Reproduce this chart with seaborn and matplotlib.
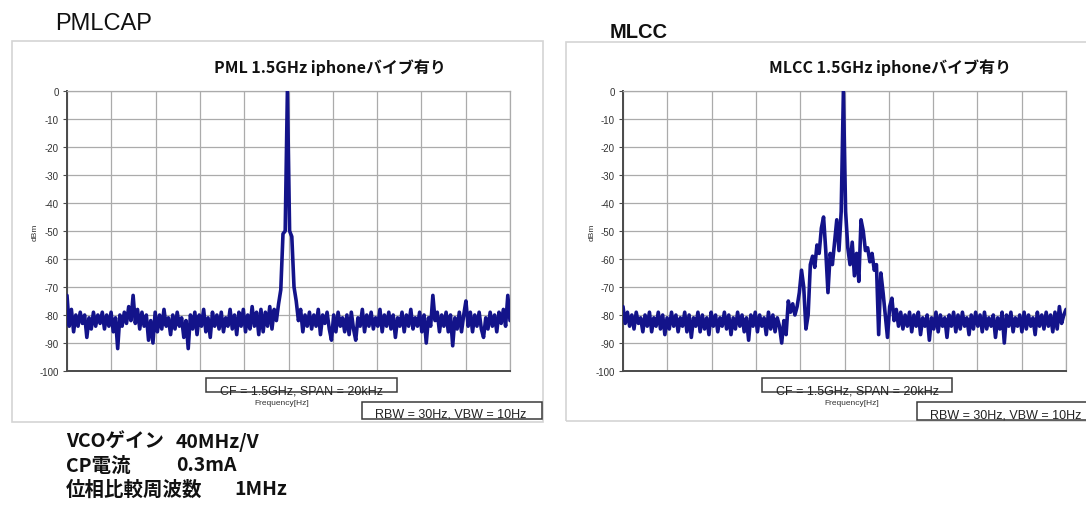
import numpy as np
import pandas as pd
import matplotlib
matplotlib.use("Agg")
import matplotlib.pyplot as plt
import seaborn as sns
from matplotlib.patches import Rectangle

sns.set_theme(style="white")
plt.rcParams['font.family'] = ['Liberation Sans', 'Noto Sans CJK JP', 'DejaVu Sans']
plt.rcParams['axes.unicode_minus'] = False

# ---------------- data ----------------
SPAN_START_KHZ = -10.0
SPAN_STOP_KHZ = 10.0

pml_dbm = [
    -73, -84, -78, -86, -80, -84, -79, -83, -80, -88,
    -81, -85, -79, -84, -80, -83, -79, -85, -80, -84,
    -79, -86, -81, -92, -80, -84, -79, -83, -77, -82,
    -73, -83, -78, -85, -79, -84, -80, -89, -82, -90,
    -79, -86, -80, -85, -78, -84, -81, -87, -80, -85,
    -79, -84, -81, -88, -82, -92, -80, -85, -79, -87,
    -80, -84, -78, -86, -81, -88, -79, -84, -80, -85,
    -79, -86, -81, -84, -78, -85, -80, -87, -79, -84,
    -78, -86, -80, -85, -77, -84, -79, -87, -78, -86,
    -79, -84, -77, -85, -78, -82, -76, -71, -51, -50,
    0,
    -50, -52, -70, -75, -82, -78, -86, -80, -84, -79,
    -85, -80, -84, -78, -87, -80, -83, -79, -85, -89,
    -80, -86, -79, -84, -81, -86, -80, -87, -79, -85,
    -89, -81, -84, -78, -86, -80, -84, -79, -85, -81,
    -84, -78, -86, -80, -84, -79, -85, -80, -88, -81,
    -84, -79, -86, -80, -84, -78, -85, -81, -84, -79,
    -86, -80, -90, -81, -84, -73, -82, -79, -86, -80,
    -84, -79, -86, -80, -91, -81, -85, -79, -86, -80,
    -75, -84, -79, -86, -80, -84, -79, -85, -88, -81,
    -85, -79, -84, -80, -86, -79, -83, -78, -84, -73,
    -82,
]

mlcc_dbm = [
    -77, -83, -79, -84, -80, -85, -79, -83, -81, -86,
    -80, -84, -79, -86, -81, -84, -79, -85, -80, -87,
    -81, -85, -79, -84, -80, -86, -81, -84, -79, -86,
    -80, -88, -81, -84, -79, -86, -80, -85, -81, -87,
    -79, -84, -80, -86, -81, -84, -79, -85, -80, -87,
    -81, -85, -79, -84, -80, -86, -81, -89, -80, -84,
    -79, -86, -80, -84, -81, -87, -79, -85, -80, -86,
    -81, -84, -90, -82, -87, -75, -79, -76, -80, -77,
    -72, -64, -70, -85, -80, -62, -59, -63, -55, -58,
    -49, -45, -57, -72, -58, -62, -54, -46, -57, -43,
    0,
    -43, -56, -62, -54, -66, -58, -68, -46, -50, -57,
    -56, -61, -58, -64, -62, -87, -65, -72, -80, -88,
    -77, -74, -82, -78, -84, -79, -85, -80, -84, -79,
    -86, -80, -84, -79, -87, -81, -84, -80, -89, -81,
    -85, -79, -86, -80, -84, -81, -88, -80, -84, -79,
    -86, -80, -85, -79, -84, -81, -87, -80, -85, -79,
    -84, -80, -86, -79, -85, -81, -84, -80, -88, -81,
    -85, -79, -90, -80, -84, -79, -86, -81, -84, -80,
    -86, -79, -85, -80, -84, -81, -87, -79, -84, -80,
    -85, -79, -84, -80, -86, -79, -85, -77, -83, -80,
    -78,
]

y_ticks = [0, -10, -20, -30, -40, -50, -60, -70, -80, -90, -100]
y_tick_labels = ["0", "-10", "-20", "-30", "-40", "-50", "-60", "-70", "-80", "-90", "-100"]
x_grid = [-10, -8, -6, -4, -2, 0, 2, 4, 6, 8, 10]

panel_names = ["PMLCAP", "MLCC"]
chart_titles = ["PML 1.5GHz iphoneバイブ有り", "MLCC 1.5GHz iphoneバイブ有り"]
cf_label = "CF = 1.5GHz, SPAN = 20kHz"
bw_label = "RBW = 30Hz, VBW = 10Hz"
x_label = "Frequency[Hz]"
y_label = "dBm"
cond_labels = ["VCOゲイン", "CP電流", "位相比較周波数"]
cond_values = ["40MHz/V", "0.3mA", "1MHz"]

# ---------------- figure ----------------
W, H = 1086, 510
fig = plt.figure(figsize=(W / 100, H / 100), dpi=100)
fig.patch.set_facecolor("white")


def fx(x):
    return x / W


def fy(y):
    return 1 - y / H


def rect(x0, y0, x1, y1, ec, lw=1.0, fc=None, z=1):
    fig.patches.append(Rectangle((fx(x0), fy(y1)), (x1 - x0) / W, (y1 - y0) / H,
                                 transform=fig.transFigure, fill=fc is not None,
                                 facecolor=fc if fc else "none", edgecolor=ec,
                                 lw=lw, zorder=z))


LINE_COLOR = "#13138a"
GRID_COLOR = "#ababab"
AXIS_COLOR = "#4a4a4a"

panels = [
    dict(series=pml_dbm, outer=(12, 42, 543, 423), axes=(67, 92, 510, 372),
         title=(330, 68), cf=(206, 379, 397, 393), freq=(282, 404),
         bw=(362, 403, 542, 420), ylab=35),
    dict(series=mlcc_dbm, outer=(566, 43, 1095, 422), axes=(623, 92, 1066, 372),
         title=(890, 68), cf=(762, 379, 952, 393), freq=(852, 404),
         bw=(917, 403, 1095, 421), ylab=592),
]

for k, p in enumerate(panels):
    vals = p["series"]
    n = len(vals)
    freq = np.linspace(SPAN_START_KHZ, SPAN_STOP_KHZ, n)
    df = pd.DataFrame({"freq_khz": freq, "level_dbm": vals})

    ox0, oy0, ox1, oy1 = p["outer"]
    rect(ox0, oy0, ox1, oy1, ec="#d4d4d4", lw=1.2, z=0)

    x0, y0, x1, y1 = p["axes"]
    ax = fig.add_axes([fx(x0), fy(y1), (x1 - x0) / W, (y1 - y0) / H])
    sns.lineplot(data=df, x="freq_khz", y="level_dbm", ax=ax, color=LINE_COLOR,
                 lw=2.6, estimator=None, sort=False, zorder=3)
    ax.set_xlim(SPAN_START_KHZ, SPAN_STOP_KHZ)
    ax.set_ylim(-100, 0)
    ax.set_xticks(x_grid)
    ax.set_xticklabels([])
    ax.set_yticks(y_ticks)
    ax.set_yticklabels(y_tick_labels, fontsize=7, color="#333333")
    ax.set_xlabel("")
    ax.set_ylabel("")
    ax.grid(True, color=GRID_COLOR, lw=0.9)
    ax.set_axisbelow(True)
    for side in ["top", "right"]:
        ax.spines[side].set_color(GRID_COLOR)
        ax.spines[side].set_linewidth(0.9)
    for side in ["left", "bottom"]:
        ax.spines[side].set_color(AXIS_COLOR)
        ax.spines[side].set_linewidth(1.4)
    ax.tick_params(axis="y", length=3, width=0.8, color=AXIS_COLOR, pad=3, left=True)
    ax.tick_params(axis="x", length=0)

    tx, ty = p["title"]
    fig.text(fx(tx), fy(ty), chart_titles[k], ha="center", va="center",
             fontsize=11.5, fontweight="bold", family=["Noto Sans CJK JP"], color="#111111")

    fig.text(fx(p["ylab"]), fy((y0 + y1) / 2), y_label, rotation=90, ha="center",
             va="center", fontsize=6, color="#333333")

    cx0, cy0, cx1, cy1 = p["cf"]
    rect(cx0, cy0, cx1, cy1, ec="#3a3a3a", lw=1.1, fc="white", z=2)
    fig.text(fx((cx0 + cx1) / 2), fy(cy1 + 1), cf_label, ha="center", va="baseline",
             fontsize=9, color="#222222", zorder=3)

    fxl, fyl = p["freq"]
    fig.text(fx(fxl), fy(fyl), x_label, ha="center", va="center", fontsize=6,
             color="#333333")

    bx0, by0, bx1, by1 = p["bw"]
    rect(bx0, by0, bx1, by1, ec="#3a3a3a", lw=1.1, fc="white", z=2)
    fig.text(fx(bx0 + 13), fy(by1 - 2), bw_label, ha="left", va="baseline",
             fontsize=9, color="#222222", zorder=3)

# panel headings
fig.text(fx(55), fy(24), panel_names[0], ha="left", va="center", fontsize=17,
         color="#111111")
fig.text(fx(610), fy(33), panel_names[1], ha="left", va="center", fontsize=14.5,
         fontweight="bold", color="#111111")

# conditions below
cond_y = [442, 466, 490]
value_x = [176, 176, 234]
for lab, val, yy, vx in zip(cond_labels, cond_values, cond_y, value_x):
    fig.text(fx(66), fy(yy), lab, ha="left", va="center", fontsize=14,
             fontweight="bold", family=["Noto Sans CJK JP"], color="#111111")
    fig.text(fx(vx), fy(yy), val, ha="left", va="center", fontsize=14,
             fontweight="bold", family=["Noto Sans CJK JP"], color="#111111")

fig.savefig("out.png", dpi=100, facecolor="white")
